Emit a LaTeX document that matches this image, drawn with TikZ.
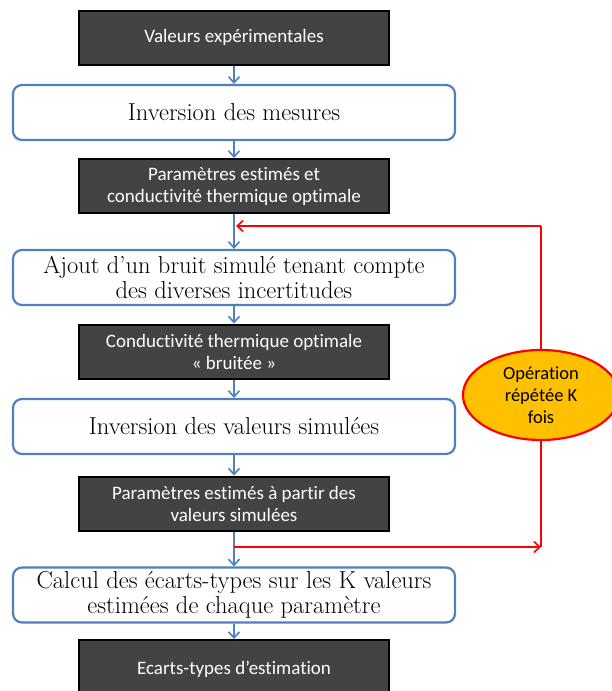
\documentclass[tikz,border=0pt]{standalone}
\usepackage{fontspec}
\newfontfamily\carfont[Ligatures=NoCommon]{Carlito}
\usetikzlibrary{arrows.meta,shapes.geometric}
\definecolor{bl}{HTML}{4F81BD}
\definecolor{dk}{HTML}{434343}
\definecolor{org}{HTML}{FFC000}
\begin{document}
\begin{tikzpicture}[x=1pt,y=-1pt,
  darkbox/.style={draw=black,line width=2pt,fill=dk,text=white,minimum width=310pt,minimum height=54pt,font=\carfont\fontsize{19}{22}\selectfont,align=center,inner sep=0pt},
  whitebox/.style={draw=bl,line width=2.2pt,rounded corners=9pt,fill=white,minimum width=442pt,minimum height=55pt,font=\fontsize{24.5}{25}\selectfont,align=center,inner sep=0pt},
  bluearrow/.style={draw=bl,line width=1.6pt,-{Straight Barb[length=6pt,width=11pt,line width=1.6pt]}},
  redarrow/.style={draw=red,line width=1.6pt,-{Straight Barb[length=6pt,width=11pt,line width=1.6pt]}},
  redline/.style={draw=red,line width=1.6pt}]
\clip (0,0) rectangle (612,691);
\fill[white] (0,0) rectangle (612,691);
\node[darkbox] (b1) at (234,37.5) {Valeurs expérimentales};
\node[whitebox] (b2) at (234,112.5) {Inversion des mesures};
\node[darkbox] (b3) at (234,186) {Paramètres estimés et\\conductivité thermique optimale};
\node[whitebox] (b4) at (234,277.5) {Ajout d’un bruit simulé tenant compte\\des diverses incertitudes};
\node[darkbox] (b5) at (234,351.5) {Conductivité thermique optimale\\« bruitée »};
\node[whitebox] (b6) at (234,426.5) {Inversion des valeurs simulées};
\node[darkbox] (b7) at (234,503.5) {Paramètres estimés à partir des\\valeurs simulées};
\node[whitebox] (b8) at (234,595) {Calcul des écarts-types sur les K valeurs\\estimées de chaque paramètre};
\node[darkbox,minimum height=58pt] (b9) at (234,669) {Ecarts-types d’estimation};
\node[ellipse,draw=red,line width=2.2pt,fill=org,minimum width=156pt,minimum height=90pt,inner sep=0pt,align=center,font=\carfont\fontsize{18.5}{22}\selectfont] (e) at (541,395) {Opération\\répétée K\\fois};
\coordinate (j1) at (236,226);
\coordinate (j2) at (234,547);
\coordinate (c1) at (541,226);
\coordinate (c2) at (541,547);
\draw[bluearrow] (b1) -- (b2);
\draw[bluearrow] (b2) -- (b3);
\draw[bluearrow] (b3) -- (b4);
\draw[bluearrow] (b4) -- (b5);
\draw[bluearrow] (b5) -- (b6);
\draw[bluearrow] (b6) -- (b7);
\draw[bluearrow] (b7) -- (b8);
\draw[bluearrow] (b8) -- (b9);
\draw[redline] (e.north) -- (c1);
\draw[redarrow] (c1) -- (j1);
\draw[redarrow] (j2) -- (c2);
\draw[redline] (c2) -- (e.south);
\end{tikzpicture}
\end{document}
